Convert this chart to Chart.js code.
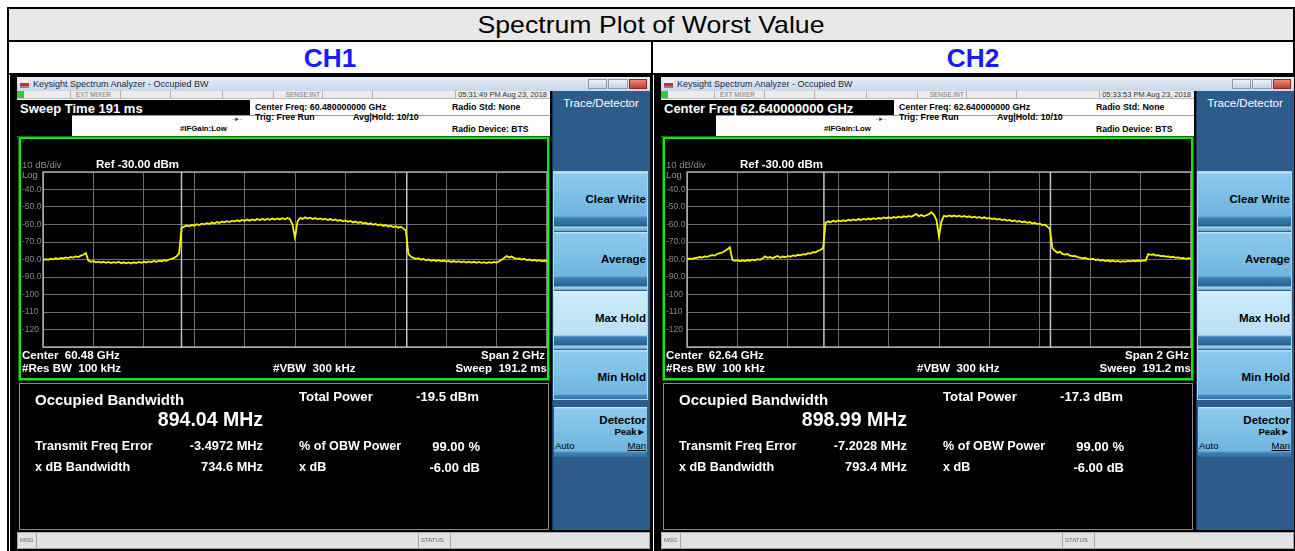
<!DOCTYPE html>
<html>
<head>
<meta charset="utf-8">
<script src="https://cdn.jsdelivr.net/npm/chart.js@4.4.0/dist/chart.umd.min.js"></script>
<style>
  html, body { margin: 0; padding: 0; background: #fff; }
  body { width: 1295px; height: 551px; overflow: hidden; position: relative; font-family: "Liberation Sans", Arial, sans-serif; }
  .a { position: absolute; white-space: pre; }
  .p { position: absolute; top: 74px; width: 641px; height: 477px; background: #000; overflow: hidden; }
  .btn { position: absolute; left: 544px; width: 93px;
         background: linear-gradient(#d4ecf9 0px, #8ccaec 2px, #6fb5df 44px, #3c80b3 46px, #28628f 54px, #a9d6ef 55px, #6aaad6 58px); }
  .btn.sel { background: linear-gradient(#eef8fd 0px, #cdeaf8 2px, #b9e0f4 44px, #3c80b3 46px, #28628f 54px, #a9d6ef 55px, #6aaad6 58px); }
</style>
</head>
<body>
<div class="a" style="left:7px;top:7px;width:1284px;height:600px;border:2px solid #000;"></div>
<div class="a" style="left:9px;top:9px;width:1284px;height:31px;background:#e8e8e8;border-bottom:2px solid #000;"></div>
<div class="a" style="left:9px;top:42px;width:1284px;height:31px;border-bottom:2px solid #000;"></div>
<div class="a" style="left:651px;top:42px;width:2px;height:520px;background:#000;"></div>
<div class="a" style="left:0;width:1302px;top:12px;height:26px;line-height:26px;font-size:24px;text-align:center;color:#000;transform:scaleX(1.11);">Spectrum Plot of Worst Value</div>
<div class="a" style="left:9px;width:642px;top:44px;height:28px;line-height:28px;font-size:25px;font-weight:bold;text-align:center;color:#1a1aff;transform:scaleX(1.05);">CH1</div>
<div class="a" style="left:653px;width:640px;top:44px;height:28px;line-height:28px;font-size:25px;font-weight:bold;text-align:center;color:#1a1aff;transform:scaleX(1.05);">CH2</div>
<div id="panels"></div>
<script>
// trace settings
const spanMHz = 2000;
const refLevel = -30;
const dbPerDiv = 10;
const yTickValues = [-40, -50, -60, -70, -80, -90, -100, -110, -120];
const yTickLabels = ['-40.0', '-50.0', '-60.0', '-70.0', '-80.0', '-90.0', '-100', '-110', '-120'];

// CH1 max-hold trace, dBm, 201 points across the span
const ch1Trace = [
  -80.4, -79.8, -80.2, -79.6, -79.9, -79.3, -79.7, -79.1, -79.4, -78.8,
  -79.2, -78.5, -78.9, -78.2, -78.6, -77.8, -77.3, -76.4, -80.6, -81.3,
  -80.9, -81.6, -81.2, -81.8, -81.3, -81.9, -81.4, -82.0, -81.5, -81.9,
  -81.3, -82.1, -81.6, -82.2, -81.7, -82.3, -81.6, -82.0, -81.4, -81.9,
  -81.2, -81.7, -81.1, -81.5, -80.9, -81.3, -80.7, -81.0, -80.4, -80.7,
  -80.0, -79.6, -79.1, -78.2, -76.5, -62.0, -61.2, -60.6, -61.0, -60.2,
  -60.7, -59.8, -60.3, -59.5, -59.9, -59.2, -59.7, -58.9, -59.4, -58.6,
  -59.1, -58.3, -58.8, -58.1, -58.6, -57.8, -58.3, -57.6, -58.1, -57.4,
  -57.9, -57.2, -57.8, -57.1, -57.6, -56.9, -57.5, -56.8, -57.4, -56.7,
  -57.3, -56.6, -57.2, -56.5, -57.1, -56.4, -57.0, -56.3, -56.9, -60.0,
  -67.5, -58.5, -56.2, -56.8, -55.9, -56.6, -56.1, -56.9, -56.3, -57.0,
  -56.5, -57.2, -56.7, -57.4, -56.9, -57.6, -57.1, -57.9, -57.4, -58.2,
  -57.7, -58.5, -58.0, -58.8, -58.3, -59.1, -58.6, -59.4, -59.0, -59.8,
  -59.3, -60.1, -59.7, -60.5, -60.0, -60.8, -60.3, -61.1, -60.7, -61.5,
  -61.0, -61.8, -61.3, -62.2, -63.5, -76.8, -78.4, -79.1, -79.6, -79.2,
  -80.1, -79.7, -80.4, -80.0, -80.7, -80.2, -80.9, -80.4, -81.0, -80.6,
  -81.2, -80.8, -81.4, -80.9, -81.5, -81.0, -81.6, -81.1, -81.7, -81.2,
  -81.8, -81.3, -81.9, -81.4, -81.9, -81.5, -82.0, -81.5, -81.9, -81.4,
  -81.8, -81.0, -80.2, -79.1, -78.0, -78.8, -78.3, -79.2, -79.6, -79.4,
  -80.0, -79.7, -80.3, -80.0, -80.6, -80.2, -80.8, -80.4, -81.0, -80.6,
  -81.1
];

// CH2 max-hold trace, dBm
const ch2Trace = [
  -80.0, -79.4, -79.8, -79.2, -79.0, -78.6, -78.9, -78.2, -78.5, -77.9,
  -77.5, -77.8, -76.9, -76.4, -76.0, -75.2, -74.1, -73.0, -80.2, -80.8,
  -80.4, -81.0, -80.5, -80.9, -80.3, -80.7, -80.1, -80.5, -79.8, -80.2,
  -79.4, -78.2, -79.0, -78.6, -79.3, -78.5, -78.0, -79.0, -78.3, -78.7,
  -78.0, -78.4, -77.7, -78.0, -77.3, -77.6, -76.9, -77.2, -76.4, -76.6,
  -75.8, -75.9, -75.0, -74.6, -73.4, -59.0, -58.2, -58.7, -57.9, -58.4,
  -57.7, -58.2, -57.6, -58.0, -57.3, -57.8, -57.1, -57.6, -56.9, -57.4,
  -56.8, -57.2, -56.6, -57.1, -56.4, -56.9, -56.2, -56.7, -56.0, -56.5,
  -55.9, -56.4, -55.7, -56.2, -55.5, -56.0, -55.3, -55.8, -55.1, -55.6,
  -54.8, -54.0, -55.2, -54.6, -55.3, -54.7, -54.1, -53.0, -54.5, -57.5,
  -67.0, -58.0, -55.0, -55.5, -54.8, -55.4, -54.9, -55.5, -55.0, -55.6,
  -55.1, -55.8, -55.3, -56.0, -55.5, -56.2, -55.7, -56.4, -55.9, -56.6,
  -56.2, -56.9, -56.5, -57.2, -56.8, -57.5, -57.1, -57.8, -57.4, -58.1,
  -57.7, -58.4, -58.0, -58.7, -58.3, -59.0, -58.6, -59.4, -59.0, -59.8,
  -59.5, -60.3, -60.1, -61.2, -62.5, -73.5, -75.0, -76.1, -75.6, -76.8,
  -77.2, -76.9, -77.8, -78.1, -77.9, -78.6, -78.9, -79.3, -79.0, -79.7,
  -79.9, -79.6, -80.3, -80.0, -80.6, -80.3, -80.9, -80.5, -81.1, -80.7,
  -81.2, -80.8, -81.3, -80.9, -81.2, -80.8, -81.1, -80.7, -81.0, -80.6,
  -80.9, -80.5, -80.7, -76.9, -77.3, -77.0, -77.8, -77.5, -78.1, -77.9,
  -78.4, -78.2, -78.7, -78.5, -79.0, -78.8, -79.3, -79.1, -79.6, -79.3,
  -79.7
];

// occupied bandwidth edges, MHz from center
const ch1ObwEdges = [-450.5, 443.5];
const ch2ObwEdges = [-456.7, 442.3];

const channels = [
  { left: 10, id: 'c1', trace: ch1Trace, edges: ch1ObwEdges,
    box: 'Sweep Time 191 ms', cf: '60.480000000', center: '60.48', date: '05:31:49 PM Aug 23, 2018',
    obw: '894.04 MHz', power: '-19.5 dBm', ferr: '-3.4972 MHz', xdb: '734.6 MHz' },
  { left: 654, id: 'c2', trace: ch2Trace, edges: ch2ObwEdges,
    box: 'Center Freq 62.640000000 GHz', cf: '62.640000000', center: '62.64', date: '05:33:53 PM Aug 23, 2018',
    obw: '898.99 MHz', power: '-17.3 dBm', ferr: '-7.2028 MHz', xdb: '793.4 MHz' }
];

const W = 641;
function box(x, y, w, h, st) {
  return `<div class="a" style="left:${x}px;top:${y}px;width:${w}px;height:${h}px;${st || ''}"></div>`;
}
function tx(x, yc, s, size, st, right) {
  const pos = right ? `right:${W - x}px` : `left:${x}px`;
  return `<div class="a" style="${pos};top:${yc - size / 2}px;height:${size}px;line-height:${size}px;font-size:${size}px;${st || ''}">${s}</div>`;
}

function panelHTML(c) {
  const B = 'font-weight:bold;color:#000;';
  const Wb = 'font-weight:bold;color:#fff;';
  let h = `<div class="p" style="left:${c.left}px">`;
  // title bar
  h += box(7, 3, 633, 14, 'background:linear-gradient(#e6eef8,#c8d7e9);');
  h += box(10, 6, 9, 8, 'background:linear-gradient(#f4f4f4 40%,#c83030 40%,#c83030 70%,#888 70%);');
  h += tx(23, 10, 'Keysight Spectrum Analyzer - Occupied BW', 9, 'color:#1c2a3a;');
  h += box(578, 5, 19, 10, 'background:linear-gradient(#eef3f9,#c4d2e2);border:1px solid #8a9bb0;box-sizing:border-box;');
  h += box(598, 5, 20, 10, 'background:linear-gradient(#eef3f9,#c4d2e2);border:1px solid #8a9bb0;box-sizing:border-box;');
  h += box(619, 5, 18, 10, 'background:linear-gradient(#e88a7a,#c7402c);border:1px solid #8a2a1a;box-sizing:border-box;');
  // status row
  h += box(7, 17, 533, 8, 'background:#ececec;border-bottom:1px solid #b8b8b8;box-sizing:border-box;');
  h += box(7, 17, 7, 7, 'background:#2bd12b;');
  [60, 110, 160, 212, 263, 312, 362, 445].forEach(x => { h += box(x, 17, 1, 7, 'background:#b0b0b0;'); });
  h += tx(66, 21, 'EXT MIXER', 6.5, 'color:#777;');
  h += tx(310, 21, 'SENSE:INT', 6.5, 'color:#777;', true);
  h += tx(537, 21, c.date, 7.5, 'color:#333;', true);
  // header
  h += box(7, 25, 533, 38, 'background:#fff;');
  h += box(7, 26, 233, 15, 'background:#000;');
  h += box(7, 41, 55, 21, 'background:#000;');
  h += box(62, 41, 478, 1, 'background:#999;');
  h += box(7, 62, 533, 1, 'background:#888;');
  h += tx(10, 34, c.box, 13, Wb);
  h += tx(245, 33, 'Center Freq: ' + c.cf + ' GHz', 8.8, B);
  h += tx(245, 43, 'Trig: Free Run', 8.8, B);
  h += tx(343, 43, 'Avg|Hold: 10/10', 8.8, B);
  h += tx(442, 33, 'Radio Std: None', 8.8, B);
  h += tx(442, 55, 'Radio Device: BTS', 8.6, B);
  h += tx(170, 55, '#IFGain:Low', 7.8, B);
  h += tx(222, 45, '-&#9658;-', 6, 'color:#333;');
  // trace window
  h += box(9, 63, 530, 243, 'border:2px solid #19e619;box-shadow:0 0 0 1px #0b6b0b;box-sizing:border-box;');
  h += `<canvas id="${c.id}" width="527" height="191" class="a" style="left:12px;top:90px;"></canvas>`;
  h += tx(12, 91, '10 dB/div', 9.5, 'color:#8a8a8a;');
  h += tx(86, 91, 'Ref -30.00 dBm', 11.5, Wb);
  h += tx(12, 101, 'Log', 9.5, 'color:#9a9a9a;');
  h += tx(12, 282, 'Center  ' + c.center + ' GHz', 11.5, Wb);
  h += tx(12, 295, '#Res BW  100 kHz', 11.5, Wb);
  h += tx(263, 295, '#VBW  300 kHz', 11.5, Wb);
  h += tx(535, 282, 'Span 2 GHz', 11.5, Wb, true);
  h += tx(537, 295, 'Sweep  191.2 ms', 11.5, Wb, true);
  // result panel
  h += box(9, 309, 530, 147, 'border:1px solid #8a8a8a;box-sizing:border-box;');
  h += tx(25, 325, 'Occupied Bandwidth', 15, Wb);
  h += tx(253, 346, c.obw, 19.5, Wb, true);
  h += tx(289, 323, 'Total Power', 13.2, Wb);
  h += tx(406, 323, c.power, 13.2, Wb);
  h += tx(25, 372, 'Transmit Freq Error', 12.6, Wb);
  h += tx(253, 372, c.ferr, 12.8, Wb, true);
  h += tx(289, 372, '% of OBW Power', 12.6, Wb);
  h += tx(470, 372, '99.00 %', 13, Wb, true);
  h += tx(25, 393, 'x dB Bandwidth', 12.6, Wb);
  h += tx(253, 393, c.xdb, 12.8, Wb, true);
  h += tx(289, 393, 'x dB', 12.6, Wb);
  h += tx(470, 393, '-6.00 dB', 13, Wb, true);
  // softkeys
  h += box(542, 17, 98, 439, 'background:#2d5c8b;border-left:1px solid #1b3b5e;box-sizing:border-box;');
  h += `<div class="a" style="left:542px;width:98px;top:23px;height:12px;line-height:12px;font-size:11.5px;color:#fff;text-align:center;">Trace/Detector</div>`;
  h += box(543, 97, 95, 229, 'border:1px solid #e6e600;box-sizing:border-box;');
  [['Clear Write', 98, 59, ''], ['Average', 158, 58, ''], ['Max Hold', 217, 58, ' sel'], ['Min Hold', 276, 49, '']].forEach(k => {
    h += `<div class="btn${k[3]}" style="top:${k[1]}px;height:${k[2]}px;"></div>`;
    h += tx(636, k[1] + 28, k[0], 11.5, B, true);
  });
  h += `<div class="btn" style="top:333px;height:50px;"></div>`;
  h += tx(636, 347, 'Detector', 11.5, B, true);
  h += tx(636, 358, 'Peak&#9658;', 9.5, 'color:#000;font-weight:bold;', true);
  h += tx(545, 372, 'Auto', 9.5, 'color:#000;');
  h += tx(636, 372, 'Man', 9.5, 'color:#000;text-decoration:underline;', true);
  // bottom status bar
  h += box(7, 458, 633, 17, 'background:#e2e2e2;border:1px solid #a8a8a8;box-sizing:border-box;');
  h += box(26, 459, 1, 15, 'background:#a8a8a8;');
  h += box(408, 459, 1, 15, 'background:#a8a8a8;');
  h += box(440, 459, 1, 15, 'background:#a8a8a8;');
  h += tx(10, 466, 'MSG', 6, 'color:#666;');
  h += tx(411, 466, 'STATUS', 6, 'color:#666;');
  h += '</div>';
  return h;
}

document.getElementById('panels').innerHTML = channels.map(panelHTML).join('');

const framePlugin = {
  id: 'frame',
  beforeDatasetsDraw(chart) {
    const { ctx, chartArea: a } = chart;
    ctx.save();
    ctx.strokeStyle = '#a8a8a8';
    ctx.lineWidth = 1.5;
    ctx.strokeRect(a.left, a.top, a.right - a.left, a.bottom - a.top);
    ctx.restore();
  }
};

function drawTrace(c) {
  const step = spanMHz / (c.trace.length - 1);
  const pts = c.trace.map((v, i) => ({ x: -spanMHz / 2 + i * step, y: v }));
  const bottom = refLevel - 10 * dbPerDiv;
  const markers = c.edges.map(f => ({
    data: [{ x: f, y: bottom }, { x: f, y: refLevel }],
    borderColor: '#c4c4c4', borderWidth: 1.5, pointRadius: 0
  }));
  new Chart(document.getElementById(c.id), {
    type: 'line',
    data: {
      datasets: [{ data: pts, borderColor: '#f4f400', borderWidth: 1.8, pointRadius: 0, tension: 0 }, ...markers]
    },
    options: {
      responsive: false,
      animation: false,
      layout: { padding: { top: 8, right: 2, bottom: 8, left: 0 } },
      plugins: { legend: { display: false }, tooltip: { enabled: false } },
      scales: {
        x: {
          type: 'linear', min: -spanMHz / 2, max: spanMHz / 2,
          ticks: { display: false, stepSize: spanMHz / 10 },
          grid: { color: '#6e6e6e', drawTicks: false },
          border: { color: '#a8a8a8' }
        },
        y: {
          min: bottom, max: refLevel,
          ticks: {
            stepSize: dbPerDiv, color: '#8a8a8a', padding: 0, crossAlign: 'far',
            font: { size: 8.5, family: '"Liberation Sans", Arial, sans-serif' },
            callback: v => { const k = yTickValues.indexOf(v); return k < 0 ? '' : yTickLabels[k]; }
          },
          grid: { color: '#6e6e6e', drawTicks: false },
          border: { color: '#a8a8a8' },
          afterFit: s => { s.width = 21; }
        }
      }
    },
    plugins: [framePlugin]
  });
}

channels.forEach(drawTrace);
</script>
</body>
</html>
